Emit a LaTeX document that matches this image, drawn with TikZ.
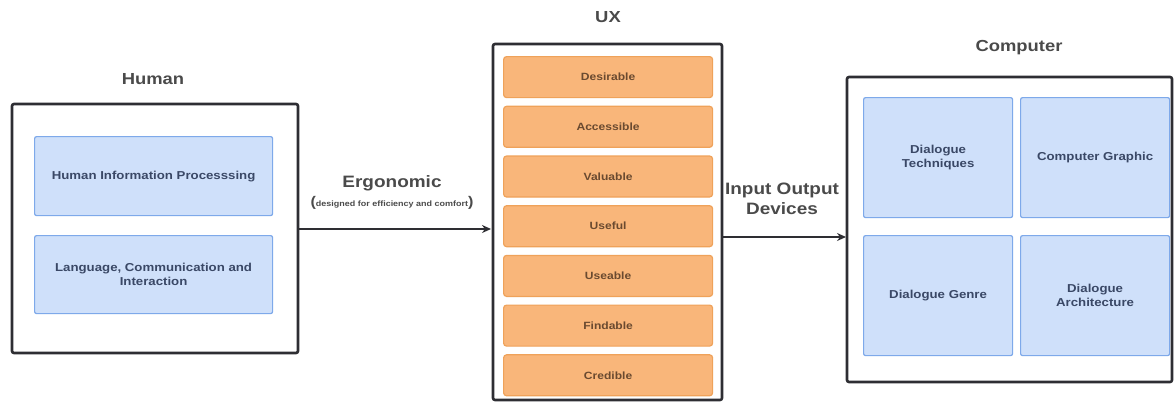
\documentclass[tikz,border=0pt]{standalone}
\usepackage{fontspec}
\setmainfont{Liberation Sans}[FakeStretch=1.15]
\usetikzlibrary{arrows.meta}
\definecolor{bluefill}{HTML}{CFE0FA}
\definecolor{blueline}{HTML}{7EA9EA}
\definecolor{orfill}{HTML}{F9B67A}
\definecolor{orline}{HTML}{EFA25A}
\definecolor{outline}{HTML}{2E2E33}
\definecolor{labgray}{HTML}{4A4A4A}
\definecolor{bluetext}{HTML}{3A4866}
\definecolor{ortext}{HTML}{6A4A30}
\tikzset{
  outer/.style={draw=outline, line width=2.6pt, rounded corners=2pt, fill=white},
  bluebox/.style={draw=blueline, line width=1.2pt, fill=bluefill, rounded corners=2pt, anchor=north west, inner sep=0pt, align=center, text=bluetext, font=\bfseries\fontsize{11.5}{14}\selectfont},
  orbox/.style={draw=orline, line width=1.2pt, fill=orfill, rounded corners=3pt, anchor=north west, inner sep=0pt, text=ortext, font=\bfseries\fontsize{10.5}{12}\selectfont},
  title/.style={text=labgray, font=\bfseries\fontsize{16}{19}\selectfont},
  conn/.style={draw=outline, line width=2pt, -{Stealth[length=9pt,width=8pt]}},
  clabel/.style={text=labgray, font=\bfseries\fontsize{16.5}{20}\selectfont, align=center}
}
\begin{document}
\begin{tikzpicture}[x=1pt,y=-1pt]
\useasboundingbox (0,0) rectangle (1174,402);
% Human
\node[title] (thuman) at (153,79) {Human};
\draw[outer] (12,104) rectangle (298,353);
\node[minimum width=286pt, minimum height=249pt, anchor=north west, inner sep=0pt] (human) at (12,104) {};
\node[bluebox, minimum width=238pt, minimum height=79pt] (hip) at (34,136) {Human Information Processsing};
\node[bluebox, minimum width=238pt, minimum height=78pt] (lci) at (34,235) {Language, Communication and\\Interaction};
% UX
\node[title] (tux) at (608,17) {UX};
\draw[outer] (493,44) rectangle (722,400);
\node[minimum width=229pt, minimum height=356pt, anchor=north west, inner sep=0pt] (ux) at (493,44) {};
\foreach \t [count=\i from 0] in {Desirable,Accessible,Valuable,Useful,Useable,Findable,Credible}{
  \node[orbox, minimum width=209pt, minimum height=41pt] (o\i) at (503,{56+49.7*\i}) {\t};
}
% Computer
\node[title] (tcomp) at (1019,48) {Computer};
\draw[outer] (847,77) rectangle (1172,382);
\node[minimum width=325pt, minimum height=305pt, anchor=north west, inner sep=0pt] (comp) at (847,77) {};
\node[bluebox, minimum width=149pt, minimum height=120pt] (dt) at (863,97) {Dialogue\\Techniques};
\node[bluebox, minimum width=149pt, minimum height=120pt] (cg) at (1020,97) {Computer Graphic};
\node[bluebox, minimum width=149pt, minimum height=120pt] (dg) at (863,235) {Dialogue Genre};
\node[bluebox, minimum width=149pt, minimum height=120pt] (da) at (1020,235) {Dialogue\\Architecture};
% connectors
\coordinate (a1) at (299,229);
\coordinate (a2) at (491,229);
\draw[conn] (a1) -- (a2);
\node[clabel] (erg) at (392,183) {Ergonomic};
\node[text=labgray, font=\bfseries\fontsize{7.8}{9}\selectfont] (ergsub) at (392,203) {\fontsize{14}{15}\selectfont(\fontsize{7.8}{9}\selectfont designed for efficiency and comfort\fontsize{14}{15}\selectfont)};
\coordinate (b1) at (723,237);
\coordinate (b2) at (846,237);
\draw[conn] (b1) -- (b2);
\node[clabel] (iod) at (782,199) {Input Output\\Devices};
\end{tikzpicture}
\end{document}
